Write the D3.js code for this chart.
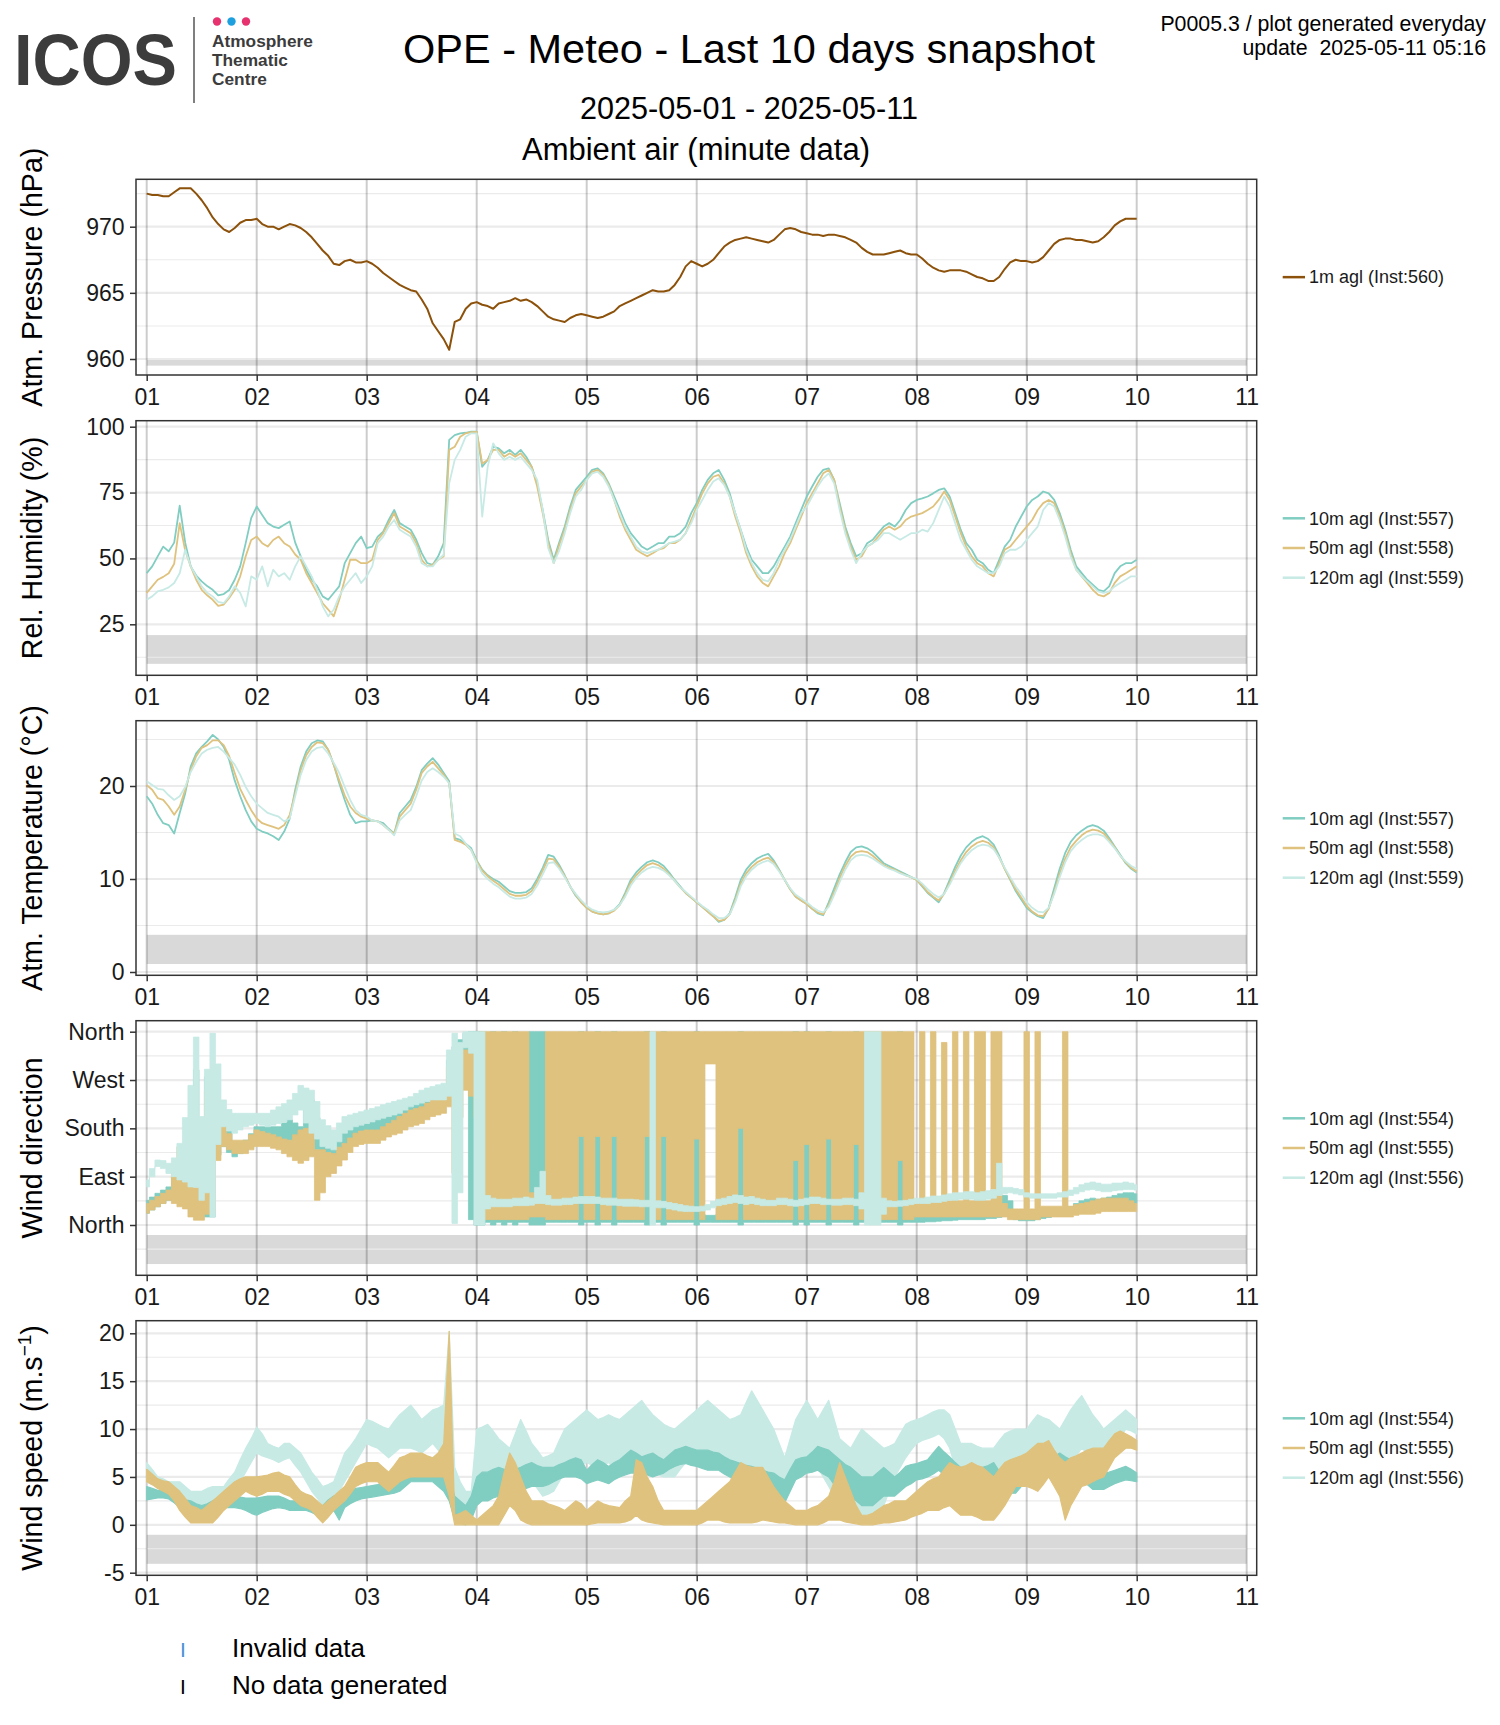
<!DOCTYPE html>
<html><head><meta charset="utf-8">
<script src="https://cdn.jsdelivr.net/npm/d3@7"></script>
<style>
body{margin:0;background:#fff}
svg text{font-family:"Liberation Sans",Arial,Helvetica,sans-serif}
</style>
</head><body>
<svg id="c" width="1500" height="1725"></svg>
<script>
// ---------------- DATA ----------------
// Time axis: days of May 2025, values sampled every 0.05 day from day 1.00 to 10.00
const START_DAY = 1, STEP = 0.05;
const dayTicks = [1,2,3,4,5,6,7,8,9,10,11];
const dayTickLabels = ["01","02","03","04","05","06","07","08","09","10","11"];

const pressure1m = [
972.5,972.4,972.4,972.3,972.3,972.6,972.9,972.9,972.9,972.5,972.0,971.4,970.7,970.2,969.8,969.6,969.9,970.3,970.5,970.5,
970.6,970.2,970.0,970.0,969.8,970.0,970.2,970.1,969.9,969.6,969.2,968.7,968.2,967.8,967.2,967.1,967.4,967.5,967.3,967.3,
967.4,967.2,966.9,966.5,966.2,965.9,965.6,965.4,965.2,965.1,964.5,963.8,962.7,962.1,961.5,960.7,962.8,963.0,963.8,964.2,
964.3,964.1,964.0,963.8,964.2,964.3,964.4,964.6,964.4,964.5,964.3,964.0,963.6,963.2,963.0,962.9,962.8,963.1,963.3,963.4,
963.3,963.2,963.1,963.2,963.4,963.6,964.0,964.2,964.4,964.6,964.8,965.0,965.2,965.1,965.1,965.2,965.6,966.2,967.0,967.4,
967.2,967.0,967.2,967.5,968.0,968.5,968.8,969.0,969.1,969.2,969.1,969.0,968.9,968.8,969.0,969.4,969.8,969.9,969.8,969.6,
969.5,969.4,969.4,969.3,969.4,969.4,969.3,969.2,969.0,968.8,968.4,968.1,967.9,967.9,967.9,968.0,968.1,968.2,968.0,967.9,
967.9,967.6,967.2,966.9,966.7,966.6,966.7,966.7,966.7,966.6,966.4,966.2,966.1,965.9,965.9,966.2,966.8,967.3,967.5,967.4,
967.4,967.3,967.4,967.7,968.2,968.7,969.0,969.1,969.1,969.0,969.0,968.9,968.8,968.9,969.2,969.6,970.1,970.4,970.6,970.6,
970.6];

const rh10 = [
44.4,47,50.8,54.5,52.7,56,70,56,47,43.5,41.3,39.5,38.1,36,36.5,38,41.9,47,55.8,65.3,
69.7,66.5,63.4,62.1,61.5,62.8,64,56,50.8,45.7,41.9,39.4,35.6,34.3,36.9,39.4,48.2,52,55.8,58.3,
53.9,54.5,58.3,60.2,64.6,68.4,63.4,62.1,60.9,57.1,52,48.2,47.6,50.8,55.8,95,96.8,97.5,97.7,98.1,
98.1,84.8,87.4,92.4,91.8,89.9,91.2,89.3,91.2,88.6,84.8,78.5,68.4,57,49.5,56,62.1,69.7,76,78.5,
81,83.6,84.2,82.3,78.5,73.5,68.4,63.4,59.6,57.1,54.5,53.3,54.5,55.8,55.8,58.3,58.3,59.6,62.1,67.2,
71,76,79.8,82.3,83.6,79.8,74.7,67.2,60.9,54.5,49.5,47,44.4,44.4,47,50.8,54.5,58.3,63.4,68.4,
73.5,77.3,81,83.6,84.2,79.8,71,62.1,55.8,50.8,52,55.8,57.1,59.6,62.1,63.4,62.1,64.6,68.4,71,
72.2,72.8,73.5,74.7,76,76.6,73.5,67.2,60.9,55.8,53.3,49.5,48.2,45.7,44.4,49.5,54.5,57.1,62.1,65.9,
69.7,72.2,73.5,75.4,74.7,72.2,67.2,60.9,53.3,47,44.4,41.9,40,38.1,37.5,39.4,44.4,47,48.2,48.2,
49.5];
const rh50 = [
36.9,39.4,41.9,43,44.4,48,63.4,53,47,41.9,38.1,36,34.3,32,32.5,35,38.1,43.2,50.8,57,
58.3,55.8,54.5,57,58.3,55.8,54.5,51.5,49.5,44.4,40.7,36.9,33,30.6,28,34.3,41.9,49.5,49.5,48.2,
48.2,49.5,57,59.6,63.4,67.2,62.1,60.9,59.6,55.8,49.5,47,47.6,49.5,50.8,91.2,92.4,96.2,97.5,97.9,
98,86,87.4,91.2,91.2,88.6,89.9,88.6,89.9,87.4,84.8,77.3,67.2,56,48.2,55,60.9,68.4,74.7,77.3,
79.8,82.9,83.6,81.7,77.9,72.2,65.9,60.9,57.1,53.3,52,50.8,52,53.3,53.9,55.8,55.8,57.1,59.6,64.6,
69.7,74.7,78.5,81,81.7,78.5,73.5,65.9,59.6,52,47,43.2,40.7,39.4,43.2,47,52,55.8,60.9,65.9,
71,74.7,78.5,82.3,83.6,79.8,69.7,60.9,54.5,49.5,50.8,54.5,55.8,58.3,60.9,62.1,60.9,62.1,64.6,65.9,
66.5,67.2,68.4,69.7,72.2,75.4,72.2,65.9,59.6,54.5,50.8,48.2,47,44.4,43.2,48.2,53.3,54.5,57.1,59.6,
62.1,64.6,68.4,71,72.2,71,65.9,59.6,52,45.7,43.2,40.7,38.1,36.2,35.6,36.9,40.7,43.2,44.4,45.7,
47];
const rh120 = [
34.3,35.6,37.5,38.1,39,40.7,44.4,53.3,47,43.2,39.4,37,35.6,33.5,33,35.6,39.4,36.9,31.8,43.2,
41.9,47,39.4,45.7,43.2,44.4,41.9,47,50.8,47,43.2,38.1,31.8,28,30.6,35.6,39.4,41.9,44.4,40.7,
43.2,47,55.8,58.3,62.1,64.6,60.9,59.6,58.3,54.5,48.2,47,47,49.5,51.4,78.5,87.4,91.2,96.2,97.5,
97.5,65.9,84.8,93.7,89.9,87.4,88.6,87.4,88.6,86.1,83.6,79.8,68.4,54,48.2,53,59.6,67.2,73.5,76,
79.8,82.3,82.9,81,77.3,72.2,67.2,62.1,58.3,54.5,52.7,52,52.7,53.3,54.5,55.8,56.4,57.1,59.6,63.4,
68.4,72.2,76,79.2,80.4,77.9,73.5,67.2,60.9,53.3,48.2,44.4,41.9,41.3,44.4,49.5,53.3,57.1,62.1,67.2,
69.7,73.5,77.3,80.4,82.3,78.5,68.4,59.6,53.3,48.2,52,54.5,55.8,57.1,59.6,59.6,58.3,57.1,58.3,59.6,
59.6,60.9,60.2,63.4,68.4,73.5,69.7,63.4,57.1,53.3,49.5,47,45.7,44.4,44.4,47,52,53.3,53.3,54.5,
57.1,59.6,62.1,68.4,71,69.7,64.6,58.3,50.8,45.7,43.2,41.3,39.4,37.5,36.9,37.5,39.4,40.7,41.9,43.2,
43.2];

const temp10 = [
18.9,18.1,16.9,16.0,15.8,14.9,17.1,19.2,22.1,23.5,24.2,24.8,25.5,25.0,24.2,22.8,20.6,18.9,17.4,16.2,
15.4,15.1,14.9,14.6,14.2,15.1,16.5,19.6,22.1,23.7,24.6,24.9,24.8,23.9,22.3,20.3,18.5,16.9,16.0,16.2,
16.2,16.3,16.2,16.0,15.4,14.9,17.1,17.8,18.5,19.9,21.7,22.4,23.0,22.3,21.4,20.5,14.4,14.2,13.8,13.3,
12.0,11.0,10.4,10.0,9.7,9.2,8.7,8.5,8.5,8.6,9.0,10.0,11.2,12.6,12.4,11.5,10.4,9.2,8.2,7.5,
6.9,6.5,6.3,6.2,6.3,6.7,7.3,8.5,9.9,10.7,11.3,11.8,12.0,11.8,11.4,10.7,9.9,9.2,8.5,8.0,
7.5,7.0,6.5,6.0,5.4,5.6,6.3,8.0,9.9,11.0,11.7,12.2,12.5,12.7,12.0,11.0,9.9,8.9,8.1,7.7,
7.3,6.8,6.3,6.1,7.5,9.0,10.5,11.8,12.9,13.4,13.5,13.3,12.9,12.3,11.7,11.4,11.1,10.8,10.5,10.2,
9.9,9.2,8.5,8.0,7.5,8.5,9.9,11.3,12.5,13.4,14.0,14.4,14.6,14.3,13.7,12.5,11.1,9.9,8.7,7.8,
6.9,6.4,6.0,5.8,6.9,9.0,11.1,12.8,14.0,14.7,15.2,15.6,15.8,15.6,15.2,14.4,13.5,12.6,11.7,11.1,
10.7];
const temp50 = [
20.1,19.6,18.7,18.5,17.8,16.9,17.8,19.6,21.7,23.2,24.1,24.4,24.9,24.9,24.4,23.2,21.4,19.7,18.5,17.4,
16.5,16.0,15.8,15.6,15.4,15.8,16.9,19.2,21.7,23.3,24.2,24.7,24.6,23.9,22.3,20.6,19.0,17.8,17.1,16.7,
16.5,16.3,16.2,15.8,15.3,14.9,16.7,17.4,18.1,19.6,21.4,22.1,22.6,21.9,21.2,20.3,14.2,14.0,13.7,13.1,
11.9,10.9,10.3,9.8,9.4,8.9,8.4,8.2,8.2,8.3,8.7,9.7,10.9,12.2,12.1,11.3,10.3,9.2,8.3,7.5,
6.9,6.5,6.3,6.2,6.3,6.6,7.2,8.3,9.6,10.4,11.0,11.5,11.7,11.5,11.1,10.5,9.8,9.1,8.5,8.0,
7.5,7.0,6.5,6.0,5.5,5.6,6.2,7.7,9.5,10.6,11.3,11.8,12.1,12.3,11.8,10.9,9.9,8.9,8.1,7.7,
7.3,6.8,6.4,6.2,7.2,8.6,10.1,11.4,12.4,12.9,13.0,12.9,12.5,12.0,11.5,11.2,11.0,10.7,10.4,10.2,
9.9,9.3,8.6,8.1,7.7,8.4,9.6,10.9,12.0,12.9,13.5,13.9,14.1,13.9,13.4,12.3,11.1,10.0,8.9,8.0,
7.1,6.5,6.1,6.0,6.8,8.6,10.6,12.2,13.4,14.1,14.7,15.1,15.3,15.2,14.9,14.2,13.4,12.5,11.8,11.2,
10.8];
const temp120 = [
20.5,20.1,19.7,19.6,19.0,18.5,18.9,19.9,21.5,22.6,23.5,23.9,24.1,24.2,23.7,23.0,22.3,21.2,19.9,18.9,
18.1,17.6,17.1,16.9,16.7,16.2,16.5,18.9,21.2,22.8,23.7,24.1,24.2,23.5,22.5,21.4,19.9,18.5,17.4,16.9,
16.7,16.3,16.2,15.8,15.3,14.7,16.3,16.9,17.4,18.9,20.6,21.5,21.9,21.5,21.0,20.3,14.9,14.6,13.8,13.1,
11.7,10.6,10.0,9.5,9.1,8.6,8.1,7.9,7.9,8.0,8.4,9.3,10.5,11.7,11.8,11.1,10.2,9.2,8.4,7.7,
7.1,6.7,6.5,6.4,6.5,6.7,7.2,8.1,9.3,10.1,10.7,11.1,11.3,11.2,10.9,10.4,9.8,9.1,8.6,8.1,
7.6,7.1,6.7,6.2,5.8,5.8,6.2,7.5,9.2,10.3,11.0,11.5,11.8,12.0,11.6,10.8,9.9,9.0,8.3,7.9,
7.5,7.0,6.6,6.4,7.0,8.3,9.7,11.0,12.0,12.5,12.6,12.5,12.2,11.8,11.4,11.1,10.9,10.6,10.4,10.2,
10.0,9.5,8.9,8.4,8.0,8.4,9.4,10.6,11.7,12.5,13.1,13.5,13.7,13.6,13.2,12.3,11.2,10.2,9.2,8.4,
7.5,6.9,6.5,6.4,6.9,8.4,10.2,11.8,13.0,13.7,14.2,14.6,14.8,14.8,14.6,14.0,13.3,12.5,11.9,11.4,
11.1];

// Wind direction (degrees): [min, max] of the minute data within each 0.05-day bin
const wdir10 = [
[22,46],[28,52],[34,59],[40,65],[46,71],[46,90],[46,108],[60,130],[71,183],[60,289],[22,171],[15,276],[15,220],[130,230],[146,214],[135,180],[127,152],[133,155],[140,158],[145,170],
[152,183],[152,183],[152,183],[155,183],[158,183],[158,190],[158,196],[155,190],[152,183],[155,215],[158,233],[140,200],[133,183],[130,170],[127,158],[135,168],[146,177],[155,186],[164,196],[164,192],
[164,189],[168,192],[171,196],[174,202],[177,208],[180,214],[183,220],[190,227],[196,233],[202,236],[208,239],[214,245],[220,251],[224,255],[227,258],[233,307],[264,332],[280,345],[295,357],[10,360],
[0,360],[0,360],[5,20],[0,360],[5,20],[0,360],[5,20],[0,360],[5,25],[5,25],[0,360],[0,360],[0,360],[5,25],[5,20],[5,20],[5,20],[5,20],[5,20],[0,360],
[5,20],[5,20],[0,360],[5,20],[5,20],[0,360],[5,20],[5,20],[5,20],[5,20],[5,20],[0,360],[5,20],[5,20],[0,360],[5,20],[5,20],[5,20],[5,20],[5,20],
[0,360],[5,20],[5,18],[5,18],[5,20],[5,22],[5,22],[5,22],[0,360],[5,20],[5,20],[5,20],[5,20],[5,20],[5,20],[5,20],[5,20],[5,20],[0,360],[5,20],
[0,360],[5,20],[5,20],[5,20],[0,360],[5,20],[5,20],[5,20],[5,20],[0,360],[5,20],[5,20],[5,20],[5,20],[5,20],[5,20],[5,20],[0,360],[5,20],[5,20],
[5,15],[5,15],[6,16],[6,16],[7,17],[8,18],[8,18],[9,20],[10,22],[10,22],[10,24],[10,24],[10,24],[12,26],[12,28],[14,35],[25,55],[20,45],[10,25],[8,20],
[8,18],[8,18],[10,20],[12,22],[14,25],[16,28],[18,30],[20,32],[22,34],[24,40],[28,45],[30,48],[30,50],[28,48],[30,50],[32,52],[34,55],[35,58],[38,60],[40,60],
[40,58]];
const wdir50 = [
[22,40],[28,46],[34,53],[40,59],[46,65],[40,100],[34,146],[30,140],[15,140],[9,110],[9,90],[20,251],[22,200],[120,200],[146,189],[140,170],[133,158],[133,158],[133,158],[140,168],
[146,177],[146,174],[146,171],[143,168],[140,164],[133,160],[127,158],[120,168],[115,177],[120,180],[127,183],[46,140],[60,140],[90,135],[96,133],[110,145],[121,152],[135,162],[146,171],[150,175],
[152,177],[152,177],[152,177],[158,183],[164,189],[168,195],[171,202],[177,208],[183,214],[186,217],[189,220],[196,227],[202,233],[205,236],[208,239],[220,295],[96,276],[200,300],[251,326],[240,320],
[200,330],[10,360],[10,360],[10,360],[10,360],[10,360],[10,360],[10,360],[10,360],[10,360],[15,60],[15,50],[15,60],[10,360],[10,360],[10,360],[10,360],[10,360],[10,360],[165,360],
[10,360],[10,360],[165,360],[10,360],[10,360],[165,360],[10,360],[10,360],[10,360],[10,360],[10,360],[165,360],[10,360],[10,360],[165,360],[10,360],[10,360],[10,360],[10,360],[10,360],
[160,360],[10,360],[300,360],[300,360],[10,360],[10,360],[10,360],[10,360],[180,360],[10,360],[10,360],[10,360],[10,360],[10,360],[10,360],[10,360],[10,360],[10,360],[120,360],[10,360],
[150,360],[10,360],[10,360],[10,360],[160,360],[10,360],[10,360],[10,360],[10,360],[150,360],[10,360],[10,360],[10,360],[10,360],[10,360],[10,360],[10,360],[120,360],[10,360],[10,360],
[15,40],[15,360],[15,45],[15,360],[15,45],[15,340],[15,45],[15,360],[15,45],[15,360],[15,45],[15,360],[15,360],[15,45],[15,360],[15,360],[15,40],[10,30],[10,30],[10,30],
[10,360],[10,30],[10,360],[15,35],[15,35],[15,35],[15,35],[15,360],[15,35],[18,38],[20,40],[20,42],[20,45],[22,48],[25,50],[25,50],[25,50],[25,50],[25,50],[25,45],
[25,40]];
const wdir120 = [
[71,84],[90,105],[109,121],[105,120],[96,115],[90,125],[84,152],[80,200],[71,260],[70,350],[46,202],[60,290],[15,357],[150,300],[183,233],[175,215],[171,208],[177,208],[183,208],[186,208],
[189,208],[186,208],[183,208],[186,214],[189,220],[192,226],[196,233],[205,245],[214,260],[190,255],[171,251],[160,230],[146,196],[143,185],[140,177],[155,190],[171,202],[177,205],[183,208],[186,211],
[189,214],[192,217],[196,220],[199,224],[202,227],[205,230],[208,233],[214,236],[220,239],[224,245],[227,251],[230,255],[233,258],[233,261],[233,264],[240,326],[3,357],[60,340],[330,360],[320,360],
[0,360],[0,360],[30,55],[34,50],[34,48],[34,48],[34,48],[36,50],[36,50],[36,52],[37,50],[40,70],[40,100],[38,55],[37,48],[37,48],[38,50],[38,50],[40,52],[40,53],
[40,53],[40,53],[40,52],[38,50],[37,50],[37,50],[36,48],[35,48],[35,48],[35,47],[34,46],[34,46],[0,360],[32,45],[32,44],[30,42],[28,40],[26,38],[25,36],[25,35],
[25,34],[26,35],[28,38],[32,44],[36,48],[38,50],[40,53],[42,56],[40,55],[38,52],[40,53],[38,50],[36,48],[36,46],[36,46],[38,50],[38,50],[36,48],[35,46],[36,48],
[38,50],[40,52],[40,52],[38,50],[38,48],[37,48],[37,48],[38,50],[38,50],[36,48],[30,60],[0,360],[0,360],[0,360],[20,50],[34,45],[34,44],[35,45],[36,46],[38,48],
[40,50],[40,50],[40,52],[42,54],[42,54],[44,56],[46,58],[46,60],[48,60],[48,62],[48,62],[46,60],[46,62],[48,64],[50,66],[55,115],[58,70],[60,70],[58,68],[56,66],
[52,60],[50,58],[50,58],[50,58],[50,58],[50,58],[52,60],[52,62],[55,65],[58,70],[62,75],[65,78],[66,80],[64,78],[62,76],[62,76],[64,78],[65,78],[66,80],[66,78],
[65,75]];

// Wind speed (m/s): [min, max] within each 0.05-day bin
const wspd10 = [
[2.6,4.0],[2.7,3.8],[2.8,3.6],[2.8,3.6],[2.7,3.5],[2.3,3.3],[1.8,2.8],[1.0,2.6],[0.5,2.5],[0.4,2.2],[0.3,2.0],[0.3,2.2],[0.5,2.5],[1.2,2.8],[1.8,3.0],[1.8,3.0],[1.8,3.0],[1.7,2.9],[1.5,2.8],[1.2,2.8],
[1.0,2.8],[1.3,2.9],[1.5,3.0],[1.7,3.0],[1.8,3.0],[1.7,2.8],[1.5,2.5],[1.5,2.5],[1.5,2.5],[1.5,2.5],[1.3,2.3],[1.0,2.0],[0.8,2.0],[1.2,2.6],[1.5,3.0],[0.5,2.5],[1.8,3.2],[2.2,3.5],[2.5,3.8],[2.7,3.9],
[2.8,4.0],[2.9,4.1],[3.0,4.2],[3.1,4.4],[3.2,4.5],[3.3,5.0],[3.5,5.5],[4.0,5.8],[4.5,6.0],[4.5,6.0],[4.5,6.0],[4.5,6.1],[4.5,6.2],[4.0,5.8],[3.5,5.5],[2.5,5.0],[0.5,3.0],[0.2,2.5],[0,2.0],[0.5,3.0],
[2.0,5.0],[2.5,5.5],[2.5,5.5],[2.8,5.8],[3.0,6.0],[3.0,5.8],[3.0,5.5],[3.2,5.8],[3.5,6.0],[3.8,6.3],[4.0,6.5],[4.0,6.2],[4.0,6.0],[4.2,6.0],[4.5,6.0],[4.8,6.3],[5.0,6.5],[5.0,6.8],[5.0,7.0],[4.8,6.8],
[4.3,5.7],[4.5,6.3],[4.7,6.8],[4.5,6.5],[4.3,6.1],[4.7,6.5],[5.0,6.8],[5.2,7.3],[5.4,7.8],[5.4,7.5],[5.4,7.1],[5.2,7.3],[5.0,7.5],[5.2,7.1],[5.4,6.8],[5.8,7.3],[6.1,7.8],[6.3,8.0],[6.4,8.2],[6.2,8.0],
[6.1,7.8],[5.9,7.8],[5.7,7.8],[5.7,7.6],[5.7,7.5],[5.3,7.1],[5.0,6.8],[4.8,6.6],[4.7,6.4],[4.7,6.2],[4.7,6.1],[4.3,5.9],[4.0,5.7],[3.6,5.5],[3.3,5.4],[2.8,5.0],[2.3,4.7],[3.5,5.8],[4.7,6.8],[5.0,7.0],
[5.4,7.1],[5.5,7.6],[5.7,8.2],[5.3,8.0],[5.0,7.8],[4.2,7.3],[3.3,6.8],[3.0,6.3],[3.0,6.0],[2.5,5.5],[2.0,5.0],[2.0,5.0],[2.0,5.0],[2.5,5.5],[3.0,6.0],[3.0,5.5],[3.0,5.0],[3.5,5.5],[4.0,6.1],[4.3,6.3],
[4.7,6.4],[4.8,6.6],[5.0,6.8],[5.3,7.5],[5.7,8.2],[5.2,7.6],[4.7,7.1],[4.0,6.5],[3.5,6.0],[3.5,6.0],[3.5,6.0],[3.5,6.0],[3.5,6.0],[3.5,6.2],[3.5,6.5],[3.4,5.6],[3.3,4.7],[3.3,5.0],[3.3,5.4],[4.0,6.1],
[4.7,6.8],[4.8,7.0],[5.0,7.1],[5.0,7.0],[5.0,6.8],[5.3,7.1],[5.7,7.5],[5.3,7.1],[5.0,6.8],[4.8,6.8],[4.7,6.8],[4.2,6.5],[3.7,6.1],[3.7,5.8],[3.7,5.4],[4.0,5.5],[4.3,5.7],[4.5,5.9],[4.7,6.1],[4.6,5.8],
[4.5,5.4]];
const wspd50 = [
[4.5,5.8],[4.2,5.3],[3.8,4.8],[3.5,4.6],[3.2,4.5],[2.5,4.0],[1.5,3.5],[0.8,2.8],[0.2,2.0],[0.2,1.8],[0.2,1.5],[0.2,2.0],[0.2,2.5],[0.8,3.0],[1.5,3.5],[2.0,4.0],[2.5,4.5],[3.0,4.8],[3.5,5.0],[3.2,5.0],
[3.0,5.0],[3.2,5.1],[3.5,5.2],[3.5,5.4],[3.5,5.5],[3.2,5.2],[3.0,5.0],[2.5,4.2],[2.0,3.5],[1.8,3.2],[1.5,3.0],[0.8,2.5],[0.2,2.0],[0.8,2.5],[1.5,3.0],[2.0,3.5],[2.5,4.0],[3.2,5.0],[4.0,6.0],[4.3,6.3],
[4.5,6.5],[4.5,6.5],[4.5,6.5],[4.0,6.0],[3.5,5.5],[4.0,6.2],[4.5,7.0],[4.8,7.2],[5.0,7.5],[5.0,7.5],[5.0,7.5],[5.0,7.2],[5.0,7.0],[5.0,7.5],[5.0,8.5],[3.0,20.2],[0,1.0],[0,1.2],[0,1.5],[0,1.0],
[0,0.5],[0,1.0],[0,1.5],[0,2.0],[0,3.0],[1.0,5.5],[2.0,7.5],[1.5,6.5],[0.5,5.0],[0.2,3.5],[0,2.5],[0,2.5],[0,2.5],[0,2.2],[0,2.0],[0,1.8],[0,1.5],[0,2.0],[0,2.5],[0,2.2],
[0,1.5],[0.1,2.0],[0.2,2.5],[0.2,2.2],[0.2,2.0],[0.2,1.9],[0.2,1.8],[0.3,2.5],[0.5,3.0],[1.0,6.8],[0.5,6.5],[0.3,5.0],[0.2,4.0],[0.1,2.5],[0,1.5],[0,1.5],[0,1.5],[0,1.5],[0,1.5],[0,1.5],
[0,1.5],[0.2,2.0],[0.5,2.5],[0.5,3.0],[0.5,3.5],[0.3,4.0],[0.2,4.5],[0.2,5.5],[0.2,6.5],[0.2,6.2],[0.2,6.0],[0.3,6.0],[0.5,6.0],[0.4,5.0],[0.3,4.0],[0.2,3.2],[0.2,2.5],[0.1,2.0],[0,1.5],[0,1.5],
[0,1.5],[0,1.8],[0,2.0],[0.2,2.5],[0.5,3.0],[0.5,4.5],[0.5,6.5],[0.3,5.0],[0.2,3.5],[0.1,2.0],[0,1.0],[0,1.0],[0,1.2],[0.1,1.6],[0.2,2.0],[0.2,2.2],[0.3,2.5],[0.4,2.5],[0.5,2.5],[0.8,3.0],
[1.0,3.5],[1.2,4.0],[1.5,4.5],[1.5,4.8],[1.5,5.0],[1.8,5.8],[2.0,6.5],[1.5,6.2],[1.0,6.0],[1.0,6.2],[1.0,6.5],[0.8,6.2],[0.5,6.0],[0.5,5.5],[0.5,5.0],[1.2,5.8],[2.0,6.5],[3.0,6.8],[4.0,7.0],[4.0,7.2],
[4.0,7.5],[3.8,8.0],[3.5,8.5],[4.2,8.5],[5.0,8.8],[4.0,7.8],[3.0,7.0],[0.5,6.5],[2.0,7.0],[3.0,7.2],[4.0,7.5],[4.2,7.8],[4.5,8.0],[4.8,8.0],[5.0,8.0],[6.0,8.8],[7.0,9.5],[7.5,9.8],[8.0,9.5],[8.0,9.2],
[7.8,8.8]];
const wspd120 = [
[4.5,6.5],[4.2,5.8],[4.0,5.0],[3.8,4.8],[3.5,4.5],[3.0,4.5],[2.5,4.5],[1.8,4.0],[1.0,3.5],[0.8,3.5],[0.5,3.5],[1.0,3.8],[1.5,4.0],[1.8,4.0],[2.0,4.0],[2.8,4.8],[3.5,5.5],[4.5,6.8],[5.5,8.0],[6.5,9.0],
[7.5,10.2],[7.2,9.5],[7.0,8.5],[6.8,8.2],[6.5,8.0],[6.8,8.5],[7.0,8.5],[6.2,8.0],[5.5,7.5],[4.5,6.5],[3.5,5.5],[2.8,4.8],[2.0,4.0],[2.2,4.2],[2.5,4.5],[3.5,6.0],[4.5,7.5],[5.5,8.2],[6.5,9.0],[7.5,10.0],
[8.5,11.0],[8.2,10.8],[8.0,10.5],[7.5,10.2],[7.0,10.0],[7.5,10.8],[8.0,11.5],[8.0,12.0],[8.0,12.5],[7.8,11.8],[7.5,11.0],[8.0,11.5],[8.5,12.0],[7.8,12.2],[7.0,12.5],[4.0,20.2],[1.0,6.0],[0.8,4.5],[0.5,3.5],[0.5,3.5],
[3.0,10.0],[4.0,10.2],[5.0,10.5],[4.5,9.8],[4.0,9.0],[3.8,8.5],[3.5,8.0],[4.2,9.5],[5.0,11.0],[4.8,9.8],[4.5,8.5],[3.8,7.8],[3.0,7.0],[3.2,7.2],[3.5,7.5],[4.5,8.8],[5.5,10.0],[5.8,10.5],[6.0,11.0],[6.2,11.5],
[6.5,12.0],[6.2,11.5],[6.0,11.0],[6.2,11.2],[6.5,11.5],[5.8,11.2],[5.0,11.0],[5.5,11.5],[6.0,12.0],[6.0,12.5],[6.0,13.0],[5.8,12.2],[5.5,11.5],[5.2,11.0],[5.0,10.5],[5.0,10.2],[5.0,10.0],[5.8,10.5],[6.5,11.0],[6.8,11.5],
[7.0,12.0],[7.2,12.5],[7.5,13.0],[7.0,12.5],[6.5,12.0],[5.8,11.5],[5.0,11.0],[4.5,11.2],[4.0,11.5],[4.5,12.8],[5.0,14.0],[5.2,13.0],[5.5,12.0],[4.8,11.0],[4.0,10.0],[3.5,8.5],[3.0,7.0],[4.0,9.0],[5.0,11.0],[5.5,12.0],
[6.0,13.0],[6.0,12.0],[6.0,11.0],[5.0,12.0],[4.0,13.0],[3.0,11.0],[2.0,9.0],[1.5,8.5],[1.0,8.0],[0.8,9.0],[0.5,10.0],[0.2,9.5],[0,9.0],[1.0,8.5],[2.0,8.0],[3.5,8.2],[5.0,8.5],[6.0,9.5],[7.0,10.5],[7.8,10.8],
[8.5,11.0],[8.8,11.2],[9.0,11.5],[9.2,11.8],[9.5,12.0],[9.0,12.0],[8.0,11.5],[6.0,10.0],[4.5,8.5],[4.2,8.5],[4.0,8.5],[4.0,8.2],[4.0,8.0],[4.0,8.0],[4.0,8.0],[4.5,8.8],[5.0,9.5],[5.0,9.8],[5.0,10.0],[5.5,10.0],
[6.0,10.0],[6.5,10.8],[7.0,11.5],[7.2,11.2],[7.5,11.0],[6.8,10.5],[6.0,10.0],[6.2,11.0],[6.5,12.0],[7.2,12.8],[8.0,13.5],[7.5,12.5],[7.0,11.5],[6.5,10.8],[6.0,10.0],[7.0,10.5],[8.0,11.0],[9.0,11.5],[10.0,12.0],[9.8,11.5],
[9.5,11.0]];

const legend3a = ["10m agl (Inst:557)","50m agl (Inst:558)","120m agl (Inst:559)"];
const legend3b = ["10m agl (Inst:554)","50m agl (Inst:555)","120m agl (Inst:556)"];
const legend1 = ["1m agl (Inst:560)"];

// ---------------- STYLE / LAYOUT ----------------
const C10 = "#80cdc1", C50 = "#dfc27d", C120 = "#c7eae5", CP = "#8c510a";
const PANEL_L = 136, PANEL_R = 1256.7;
const svg = d3.select("#c");
const x = d3.scaleLinear().domain([1, 11]).range([146.7, 1246.7]);
const dayOf = i => START_DAY + i * STEP;

const panels = [
  {top:179.3,bottom:375, dom:[960,970], rng:[359,226.7], ticks:[960,965,970], minor:[962.5,967.5,972.5], band:[959.5,960.05],
   title:"Atm. Pressure (hPa)", legend:legend1, colors:[CP],
   draw:(g,y)=>{ lineSeries(g,y,pressure1m,CP,2); }},
  {top:420.7,bottom:675.3, dom:[25,100], rng:[624.3,426.7], ticks:[25,50,75,100], minor:[12.5,37.5,62.5,87.5], band:[10,20.9],
   title:"Rel. Humidity (%)", legend:legend3a, colors:[C10,C50,C120],
   draw:(g,y)=>{ lineSeries(g,y,rh10,C10,1.8); lineSeries(g,y,rh50,C50,1.8); lineSeries(g,y,rh120,C120,1.8); }},
  {top:720.7,bottom:975.3, dom:[0,20], rng:[972,786], ticks:[0,10,20], minor:[5,15,25], band:[0.86,4],
   title:"Atm. Temperature (°C)", legend:legend3a, colors:[C10,C50,C120],
   draw:(g,y)=>{ lineSeries(g,y,temp10,C10,1.8); lineSeries(g,y,temp50,C50,1.8); lineSeries(g,y,temp120,C120,1.8); }},
  {top:1020.7,bottom:1275.3, dom:[0,360], rng:[1225,1031.7], ticks:[0,90,180,270,360], labels:["North","East","South","West","North"], minor:[-45,45,135,225,315], band:[-72.7,-18.6],
   title:"Wind direction", legend:legend3b, colors:[C10,C50,C120],
   draw:(g,y)=>{ rangeSeries(g,y,wdir10,C10,d3.curveStep,0.8); rangeSeries(g,y,wdir50,C50,d3.curveStep,0.8); rangeSeries(g,y,wdir120,C120,d3.curveStep,0.8); }},
  {top:1320.7,bottom:1575.3, dom:[-5,20], rng:[1572.7,1333.3], ticks:[-5,0,5,10,15,20], minor:[-2.5,2.5,7.5,12.5,17.5], band:[-4.07,-1.04],
   title:null, legend:legend3b, colors:[C10,C50,C120],
   draw:(g,y)=>{ rangeSeries(g,y,wspd120,C120,d3.curveLinear,1.2); rangeSeries(g,y,wspd10,C10,d3.curveLinear,1.2); rangeSeries(g,y,wspd50,C50,d3.curveLinear,1.2); }}
];

function lineSeries(g,y,vals,color,w){
  const line = d3.line().x((d,i)=>x(dayOf(i))).y(d=>y(d));
  g.append("path").attr("d",line(vals)).attr("fill","none").attr("stroke",color)
   .attr("stroke-width",w).attr("stroke-linejoin","round");
}
function rangeSeries(g,y,pairs,color,curve,sw){
  const area = d3.area().curve(curve).x((d,i)=>x(dayOf(i))).y0(d=>y(d[0])).y1(d=>y(d[1]));
  g.append("path").attr("d",area(pairs)).attr("fill",color).attr("stroke",color)
   .attr("stroke-width",sw).attr("stroke-linejoin","round");
}

panels.forEach(p=>{
  const g = svg.append("g");
  const y = d3.scaleLinear().domain(p.dom).range(p.rng);
  // indicator band
  g.append("rect").attr("x",x(1)).attr("width",x(11)-x(1))
    .attr("y",y(p.band[1])).attr("height",y(p.band[0])-y(p.band[1])).attr("fill","#d9d9d9");
  // grid
  g.selectAll(null).data(p.minor).join("line")
    .attr("x1",PANEL_L).attr("x2",PANEL_R).attr("y1",d=>y(d)).attr("y2",d=>y(d))
    .attr("stroke","#ebebeb").attr("stroke-width",1.1);
  g.selectAll(null).data(p.ticks).join("line")
    .attr("x1",PANEL_L).attr("x2",PANEL_R).attr("y1",d=>y(d)).attr("y2",d=>y(d))
    .attr("stroke","#ebebeb").attr("stroke-width",2.2);
  g.selectAll(null).data(dayTicks).join("line")
    .attr("x1",d=>x(d)).attr("x2",d=>x(d)).attr("y1",p.top).attr("y2",p.bottom)
    .attr("stroke","#000").attr("stroke-opacity",0.2).attr("stroke-width",2);
  // data
  p.draw(g,y);
  // border
  g.append("rect").attr("x",PANEL_L).attr("y",p.top).attr("width",PANEL_R-PANEL_L).attr("height",p.bottom-p.top)
    .attr("fill","none").attr("stroke","#333").attr("stroke-width",1.5);
  // axes
  const ya = g.append("g").attr("transform",`translate(${PANEL_L},0)`)
    .call(d3.axisLeft(y).tickValues(p.ticks).tickSize(6).tickPadding(5.5)
      .tickFormat((d,i)=> p.labels ? p.labels[i] : String(d)));
  const xa = g.append("g").attr("transform",`translate(0,${p.bottom})`)
    .call(d3.axisBottom(x).tickValues(dayTicks).tickSize(6).tickPadding(7.5)
      .tickFormat((d,i)=>dayTickLabels[i]));
  [ya,xa].forEach(a=>{
    a.select(".domain").remove();
    a.selectAll(".tick line").attr("stroke","#333").attr("stroke-width",1.5);
    a.selectAll(".tick text").attr("fill","#1a1a1a").attr("font-size",23)
      .style("font-family",'"Liberation Sans",Arial,sans-serif');
  });
  // y title
  const cy = (p.top+p.bottom)/2;
  const t = svg.append("text").attr("transform",`translate(42,${cy}) rotate(-90)`)
    .attr("text-anchor","middle").attr("font-size",28.6).attr("fill","#000");
  if (p.title) t.text(p.title);
  else {
    t.append("tspan").text("Wind speed (m.s");
    t.append("tspan").attr("dy",-11).attr("font-size",19).text("\u22121");
    t.append("tspan").attr("dy",11).text(")");
  }
  // legend
  const n = p.legend.length, sp = 29.7;
  p.legend.forEach((lab,i)=>{
    const ly = cy + (i-(n-1)/2)*sp;
    svg.append("line").attr("x1",1282.7).attr("x2",1305).attr("y1",ly).attr("y2",ly)
      .attr("stroke",p.colors[i]).attr("stroke-width",2.5);
    svg.append("text").attr("x",1309).attr("y",ly).attr("dy","0.35em").attr("font-size",18)
      .attr("fill","#1a1a1a").text(lab);
  });
});

// ---------------- HEADER ----------------
svg.append("text").attr("x",14).attr("y",85).attr("font-size",72).attr("font-weight","bold")
  .attr("fill","#3c3c3c").attr("textLength",163).attr("lengthAdjust","spacingAndGlyphs").text("ICOS");
svg.append("line").attr("x1",194).attr("x2",194).attr("y1",17).attr("y2",103).attr("stroke","#555").attr("stroke-width",1.5);
[["#e6336f",217],["#1ea0df",231.5],["#e6336f",246]].forEach(([c,cx])=>{
  svg.append("circle").attr("cx",cx).attr("cy",21.5).attr("r",4.2).attr("fill",c);
});
["Atmosphere","Thematic","Centre"].forEach((s,i)=>{
  svg.append("text").attr("x",212).attr("y",47+i*18.8).attr("font-size",17.3).attr("font-weight","bold")
    .attr("fill","#3c3c3c").text(s);
});
svg.append("text").attr("x",749).attr("y",63).attr("text-anchor","middle").attr("font-size",41.5)
  .attr("fill","#000").text("OPE - Meteo - Last 10 days snapshot");
svg.append("text").attr("x",749).attr("y",119).attr("text-anchor","middle").attr("font-size",30.6)
  .attr("fill","#000").text("2025-05-01 - 2025-05-11");
svg.append("text").attr("x",696).attr("y",160).attr("text-anchor","middle").attr("font-size",31)
  .attr("fill","#000").text("Ambient air (minute data)");
svg.append("text").attr("x",1486).attr("y",31).attr("text-anchor","end").attr("font-size",21.3)
  .attr("fill","#000").text("P0005.3 / plot generated everyday");
svg.append("text").attr("x",1486).attr("y",55).attr("text-anchor","end").attr("font-size",21.3)
  .attr("fill","#000").style("white-space","pre").text("update  2025-05-11 05:16");

// ---------------- BOTTOM LEGEND ----------------
[["#4a8fd4","Invalid data",1657],["#000","No data generated",1694]].forEach(([c,s,by])=>{
  svg.append("text").attr("x",183).attr("y",by).attr("text-anchor","middle").attr("font-size",21).attr("fill",c).text("I");
  svg.append("text").attr("x",232).attr("y",by).attr("font-size",26).attr("fill","#000").text(s);
});
</script>
</body></html>
